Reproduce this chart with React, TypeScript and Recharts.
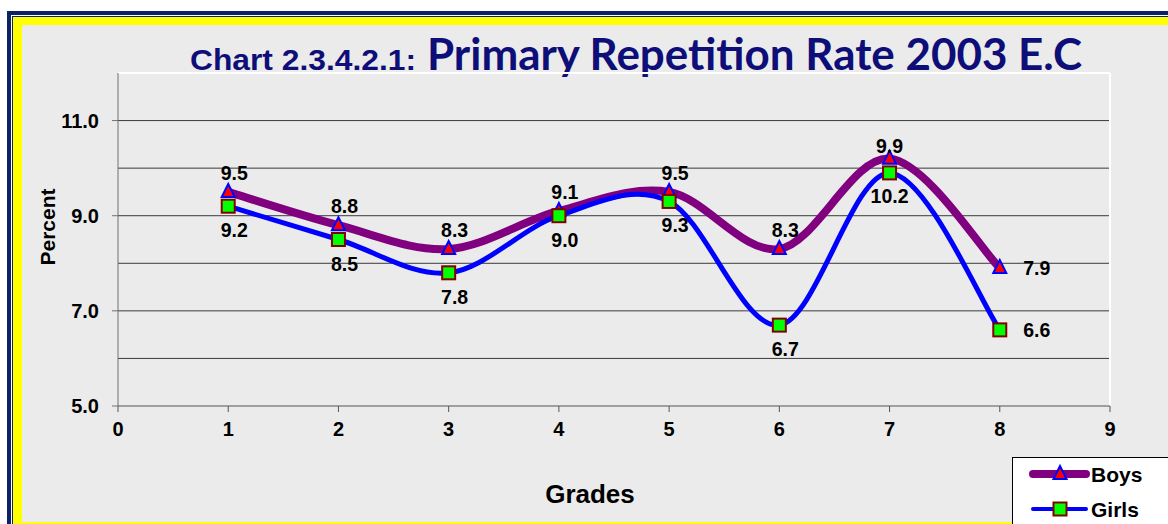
import React from 'react';
import { LineChart, Line, XAxis, YAxis, ReferenceLine } from 'recharts';

const grades = [1, 2, 3, 4, 5, 6, 7, 8];
const boys = [9.5, 8.8, 8.3, 9.1, 9.5, 8.3, 10.2, 7.9];
const girls = [9.2, 8.5, 7.8, 9.0, 9.3, 6.7, 9.9, 6.6];
const xTicks = [0, 1, 2, 3, 4, 5, 6, 7, 8, 9];
const yTicks = [5, 7, 9, 11];
const gridValues = [6, 7, 8, 9, 10, 11];

const data = grades.map((g, i) => ({ grade: g, Boys: boys[i], Girls: girls[i] }));

const FONT = '"Liberation Sans", Arial, sans-serif';
const NAVY = '#0b2265';
const TITLE = '#0e0e78';
const BG = '#ebebeb';

// Catmull-Rom style smoothing similar to Excel's smoothed lines
const smoothCurve: any = (context: any) => {
  let xs: number[] = [];
  let ys: number[] = [];
  return {
    areaStart() {},
    areaEnd() {},
    lineStart() {
      xs = [];
      ys = [];
    },
    lineEnd() {
      const n = xs.length;
      if (!n) return;
      context.moveTo(xs[0], ys[0]);
      const t = 1 / 6;
      for (let i = 0; i < n - 1; i++) {
        const a = Math.max(i - 1, 0);
        const d = Math.min(i + 2, n - 1);
        context.bezierCurveTo(
          xs[i] + (xs[i + 1] - xs[a]) * t,
          ys[i] + (ys[i + 1] - ys[a]) * t,
          xs[i + 1] - (xs[d] - xs[i]) * t,
          ys[i + 1] - (ys[d] - ys[i]) * t,
          xs[i + 1],
          ys[i + 1]
        );
      }
    },
    point(x: number, y: number) {
      xs.push(+x);
      ys.push(+y);
    },
  };
};

const Triangle = (props: any) => {
  const { cx, cy } = props;
  if (cx == null || cy == null) return null;
  return (
    <polygon
      points={`${cx},${cy - 8} ${cx + 6.5},${cy + 5} ${cx - 6.5},${cy + 5}`}
      fill="#ff0000"
      stroke="#0000ff"
      strokeWidth={2}
    />
  );
};

const Square = (props: any) => {
  const { cx, cy } = props;
  if (cx == null || cy == null) return null;
  return <rect x={cx - 6.5} y={cy - 6.5} width={13} height={13} fill="#00ff00" stroke="#800000" strokeWidth={2} />;
};

const makeLabel = (series: 'boys' | 'girls') => (props: any) => {
  const { x, y, value, index } = props;
  if (x == null || y == null) return null;
  let dx = 6;
  let dy = series === 'boys' ? -19 : 24;
  if (index === 6) {
    dx = 0;
    dy = series === 'boys' ? 37 : -27;
  }
  if (index === 7) {
    dx = 37;
    dy = 0;
  }
  return (
    <text
      x={x + dx}
      y={y + dy}
      textAnchor="middle"
      dominantBaseline="central"
      fontFamily={FONT}
      fontWeight="bold"
      fontSize={19.5}
      fill="#000"
    >
      {Number(value).toFixed(1)}
    </text>
  );
};

const LegendBox = () => (
  <div
    style={{
      position: 'absolute',
      left: 1012,
      top: 457,
      width: 170,
      height: 80,
      background: '#fff',
      border: '1px solid #000',
      boxSizing: 'border-box',
    }}
  >
    <svg width={170} height={80} style={{ position: 'absolute', left: -1, top: -1 }}>
      <line x1={21} y1={17} x2={74} y2={17} stroke="#800080" strokeWidth={8} strokeLinecap="round" />
      <polygon points="48,9 54.5,22 41.5,22" fill="#ff0000" stroke="#0000ff" strokeWidth={2} />
      <text x={79} y={25} fontFamily={FONT} fontWeight="bold" fontSize={21} fill="#000">
        Boys
      </text>
      <line x1={21} y1={52} x2={74} y2={52} stroke="#0000ff" strokeWidth={4} strokeLinecap="round" />
      <rect x={41.5} y={45.5} width={13} height={13} fill="#00ff00" stroke="#800000" strokeWidth={2} />
      <text x={79} y={60} fontFamily={FONT} fontWeight="bold" fontSize={21} fill="#000">
        Girls
      </text>
    </svg>
  </div>
);

export default function App() {
  const abs = (left: number, top: number, bg: string): React.CSSProperties => ({
    position: 'absolute',
    left,
    top,
    width: 1400,
    height: 700,
    background: bg,
  });
  return (
    <div
      style={{
        position: 'fixed',
        left: 0,
        top: 0,
        width: 1168,
        height: 524,
        overflow: 'hidden',
        background: '#fff',
      }}
    >
      <div style={abs(7, 11, NAVY)} />
      <div style={abs(11, 15, '#fff')} />
      <div style={abs(12, 16, NAVY)} />
      <div style={abs(13, 17, '#ffff00')} />
      <div style={{ ...abs(22, 25, BG), height: 497 }} />

      <svg width={1168} height={80} style={{ position: 'absolute', left: 0, top: 0 }}>
        <text x={190} y={70} fontFamily={FONT} fontWeight="bold" fontSize={30} fill={TITLE} textLength={226} lengthAdjust="spacingAndGlyphs">
          Chart 2.3.4.2.1:
        </text>
        <text x={427} y={70} fontFamily="Lato, 'Open Sans', sans-serif" fontWeight="bold" fontSize={43} fill={TITLE} textLength={655} lengthAdjust="spacingAndGlyphs">
          Primary Repetition Rate 2003 E.C
        </text>
      </svg>

      <div style={{ position: 'absolute', left: 0, top: 0 }}>
        <LineChart width={1168} height={524} data={data} margin={{ top: 73, right: 58, bottom: 78, left: 58 }}>
          {gridValues.map((v) => (
            <ReferenceLine key={v} y={v} stroke="#3a3a3a" strokeWidth={1} />
          ))}
          <ReferenceLine y={12} stroke="#ffffff" strokeWidth={2} />
          <ReferenceLine x={9} stroke="#ffffff" strokeWidth={2} />
          <XAxis
            dataKey="grade"
            type="number"
            domain={[0, 9]}
            ticks={xTicks}
            interval={0}
            height={40}
            stroke="#555"
            tickSize={6}
            tickMargin={10}
            tick={{ fontFamily: FONT, fontWeight: 'bold', fontSize: 20, fill: '#000' }}
          />
          <YAxis
            type="number"
            domain={[5, 12]}
            ticks={yTicks}
            interval={0}
            width={60}
            stroke="#707070"
            tickSize={6}
            tickMargin={13}
            tickFormatter={(v: number) => v.toFixed(1)}
            tick={{ fontFamily: FONT, fontWeight: 'bold', fontSize: 20, fill: '#000' }}
          />
          <Line
            dataKey="Boys"
            type={smoothCurve}
            stroke="#800080"
            strokeWidth={8}
            dot={<Triangle />}
            activeDot={false}
            label={makeLabel('boys')}
            isAnimationActive={false}
          />
          <Line
            dataKey="Girls"
            type={smoothCurve}
            stroke="#0000ff"
            strokeWidth={5}
            dot={<Square />}
            activeDot={false}
            label={makeLabel('girls')}
            isAnimationActive={false}
          />
        </LineChart>
      </div>

      <svg width={1168} height={524} style={{ position: 'absolute', left: 0, top: 0, pointerEvents: 'none' }}>
        <text
          x={47}
          y={227}
          transform="rotate(-90 47 227)"
          textAnchor="middle"
          dominantBaseline="central"
          fontFamily={FONT}
          fontWeight="bold"
          fontSize={21}
          fill="#000"
        >
          Percent
        </text>
        <text
          x={590}
          y={494}
          textAnchor="middle"
          dominantBaseline="central"
          fontFamily={FONT}
          fontWeight="bold"
          fontSize={26}
          fill="#000"
        >
          Grades
        </text>
      </svg>

      <LegendBox />
    </div>
  );
}
